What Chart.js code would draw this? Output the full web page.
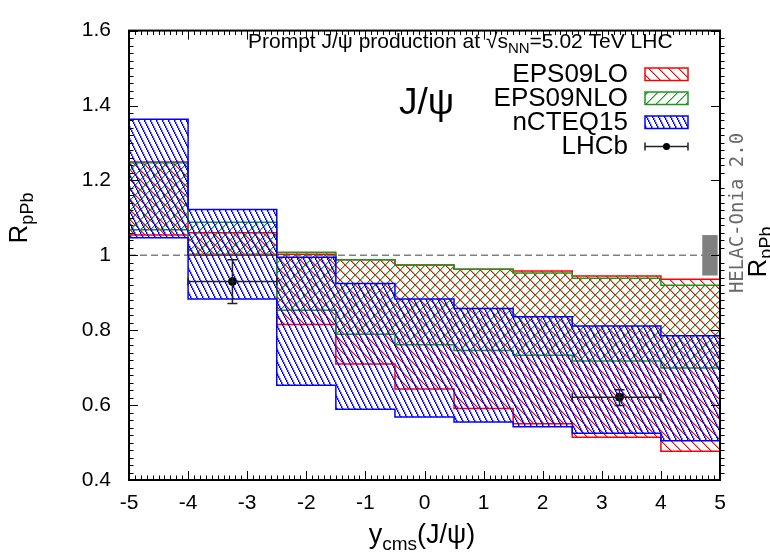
<!DOCTYPE html>
<html>
<head>
<meta charset="utf-8">
<script src="https://cdn.jsdelivr.net/npm/chart.js@4.4.0/dist/chart.umd.min.js"></script>
<style>
html, body { margin: 0; padding: 0; background: #fff; }
#wrap { width: 770px; height: 554px; }
</style>
</head>
<body>
<div id="wrap"><canvas id="rpbChart" width="770" height="554"></canvas></div>
<script>
// rapidity bins (edges) shared by all three nPDF bands
const binEdges = [-5, -4, -2.5, -1.5, -0.5, 0.5, 1.5, 2.5, 4, 5];

const eps09loHigh  = [1.249, 1.060, 1.003, 0.988, 0.974, 0.963, 0.958, 0.945, 0.936];
const eps09loLow   = [1.054, 1.000, 0.815, 0.710, 0.643, 0.591, 0.550, 0.514, 0.477];
const eps09nloHigh = [1.247, 1.088, 1.008, 0.988, 0.974, 0.963, 0.953, 0.939, 0.920];
const eps09nloLow  = [1.068, 1.003, 0.853, 0.789, 0.761, 0.746, 0.733, 0.718, 0.699];
const ncteqHigh    = [1.363, 1.122, 0.995, 0.925, 0.883, 0.858, 0.836, 0.811, 0.785];
const ncteqLow     = [1.047, 0.883, 0.653, 0.589, 0.568, 0.555, 0.542, 0.525, 0.505];

// LHCb data
const lhcbY      = [-3.25, 3.3];
const lhcbR      = [0.930, 0.621];
const lhcbErrLow = [0.871, 0.599];
const lhcbErrHigh= [0.988, 0.641];
const lhcbBinLow = [-4, 2.5];
const lhcbBinHigh= [-2.5, 4];

// global normalisation uncertainty box
const normCenter = 1.0;
const normUnc = 0.054;

const xTicks = [-5, -4, -3, -2, -1, 0, 1, 2, 3, 4, 5];
const yTicks = [0.4, 0.6, 0.8, 1.0, 1.2, 1.4, 1.6];

const RED = '#ff0000';
const GREEN = '#1e961e';
const BLUE = '#0000ff';
const FONT = '"Liberation Sans", Arial, sans-serif';

// crisp pixel hatching, like gnuplot's pattern fills
function makeHatch(color, w, h, up) {
    const c = document.createElement('canvas');
    c.width = w; c.height = h;
    const g = c.getContext('2d');
    g.fillStyle = color;
    for (let yy = 0; yy < h; yy++) {
        let xx = Math.floor(yy * w / h);
        if (up) xx = w - 1 - xx;
        g.globalAlpha = 1;
        g.fillRect(xx, yy, 1, 1);
        g.globalAlpha = 0.45;
        g.fillRect((xx + 1) % w, yy, 1, 1);
    }
    return g.createPattern(c, 'repeat');
}

const redHatch = makeHatch(RED, 10, 10, false);
const greenHatch = makeHatch(GREEN, 10, 10, true);
const blueHatch = makeHatch(BLUE, 6, 12, false);

function stepPoints(values) {
    const pts = [];
    values.forEach((v, i) => {
        pts.push({x: binEdges[i], y: v});
        pts.push({x: binEdges[i + 1], y: v});
    });
    return pts;
}

function band(label, high, low, color, pattern, order) {
    return [{
        label: label,
        data: stepPoints(high),
        borderColor: color,
        backgroundColor: pattern,
        borderWidth: 1.5,
        pointRadius: 0,
        fill: '+1',
        order: order
    }, {
        label: label + ' low',
        data: stepPoints(low),
        borderColor: color,
        borderWidth: 1.5,
        pointRadius: 0,
        fill: false,
        order: order
    }];
}

function drawSub(ctx, x, y, parts, align) {
    // parts: [text, size, dy]
    let total = 0;
    parts.forEach(p => { ctx.font = p[1] + 'px ' + FONT; total += ctx.measureText(p[0]).width; });
    let cx = align === 'center' ? x - total / 2 : x;
    ctx.textAlign = 'left';
    ctx.textBaseline = 'alphabetic';
    parts.forEach(p => {
        ctx.font = p[1] + 'px ' + FONT;
        ctx.fillText(p[0], cx, y + p[2]);
        cx += ctx.measureText(p[0]).width;
    });
}

const decorPlugin = {
    id: 'decor',
    beforeDatasetsDraw(chart) {
        const {ctx, chartArea: a, scales: {x, y}} = chart;
        ctx.save();
        ctx.strokeStyle = '#808080';
        ctx.lineWidth = 1.5;
        ctx.setLineDash([7, 4]);
        ctx.beginPath();
        ctx.moveTo(a.left, y.getPixelForValue(1));
        ctx.lineTo(a.right, y.getPixelForValue(1));
        ctx.stroke();
        ctx.restore();
    },
    afterDatasetsDraw(chart) {
        const {ctx, chartArea: a, scales: {x, y}} = chart;
        ctx.save();

        // LHCb error bars
        ctx.strokeStyle = '#222';
        ctx.lineWidth = 1.5;
        lhcbY.forEach((v, i) => {
            const px = x.getPixelForValue(v);
            const py = y.getPixelForValue(lhcbR[i]);
            const x0 = x.getPixelForValue(lhcbBinLow[i]);
            const x1 = x.getPixelForValue(lhcbBinHigh[i]);
            const y0 = y.getPixelForValue(lhcbErrLow[i]);
            const y1 = y.getPixelForValue(lhcbErrHigh[i]);
            ctx.beginPath();
            ctx.moveTo(x0, py); ctx.lineTo(x1, py);
            ctx.moveTo(x0, py - 4); ctx.lineTo(x0, py + 4);
            ctx.moveTo(x1, py - 4); ctx.lineTo(x1, py + 4);
            ctx.moveTo(px, y0); ctx.lineTo(px, y1);
            ctx.moveTo(px - 5, y0); ctx.lineTo(px + 5, y0);
            ctx.moveTo(px - 5, y1); ctx.lineTo(px + 5, y1);
            ctx.stroke();
        });

        // normalisation box
        ctx.fillStyle = '#808080';
        const bx0 = x.getPixelForValue(4.7), bx1 = x.getPixelForValue(4.96);
        const by0 = y.getPixelForValue(normCenter + normUnc), by1 = y.getPixelForValue(normCenter - normUnc);
        ctx.fillRect(bx0, by0, bx1 - bx0, by1 - by0);

        // ticks
        ctx.strokeStyle = '#000';
        ctx.lineWidth = 1;
        ctx.beginPath();
        for (let i = 0; i <= 100; i++) {
            const v = -5 + i * 0.1;
            const px = Math.round(x.getPixelForValue(v)) + 0.5;
            const len = i % 10 === 0 ? 9 : 4.5;
            ctx.moveTo(px, a.bottom); ctx.lineTo(px, a.bottom - len);
            ctx.moveTo(px, a.top); ctx.lineTo(px, a.top + len);
        }
        for (let i = 0; i <= 60; i++) {
            const v = 0.4 + i * 0.02;
            const py = Math.round(y.getPixelForValue(v)) + 0.5;
            const len = i % 10 === 0 ? 9 : 4.5;
            ctx.moveTo(a.left, py); ctx.lineTo(a.left + len, py);
            if (i % 10 === 0) { ctx.moveTo(a.right, py); ctx.lineTo(a.right - len, py); }
            else { ctx.moveTo(a.right, py); ctx.lineTo(a.right + len, py); }
        }
        ctx.stroke();

        // frame
        ctx.lineWidth = 2;
        ctx.strokeRect(a.left, a.top, a.right - a.left, a.bottom - a.top);

        // title line
        ctx.fillStyle = '#000';
        ctx.font = '21px ' + FONT;
        ctx.textAlign = 'left';
        ctx.textBaseline = 'alphabetic';
        let tx = 248;
        const tb = 48;
        const t1 = 'Prompt J/\u03c8 production at \u221a';
        ctx.fillText(t1, tx, tb);
        tx += ctx.measureText(t1).width;
        const sw = ctx.measureText('s').width;
        ctx.fillText('s', tx, tb);
        ctx.lineWidth = 1;
        ctx.beginPath();
        ctx.moveTo(tx - 1, tb - 17.5); ctx.lineTo(tx + sw + 1, tb - 17.5);
        ctx.stroke();
        tx += sw;
        ctx.font = '15px ' + FONT;
        ctx.fillText('NN', tx, tb + 5);
        tx += ctx.measureText('NN').width;
        ctx.font = '21px ' + FONT;
        ctx.fillText('=5.02 TeV LHC', tx, tb);

        // J/psi label
        ctx.font = '37px ' + FONT;
        ctx.fillText('J/\u03c8', 399, 114);

        // legend
        const legend = [
            ['EPS09LO', RED, redHatch],
            ['EPS09NLO', GREEN, greenHatch],
            ['nCTEQ15', BLUE, blueHatch],
            ['LHCb', '#222', null]
        ];
        ctx.font = '26px ' + FONT;
        legend.forEach((row, i) => {
            const base = 82 + i * 24;
            ctx.fillStyle = '#000';
            ctx.textAlign = 'right';
            ctx.fillText(row[0], 628, base);
            if (row[2]) {
                ctx.fillStyle = row[2];
                ctx.fillRect(645, base - 14, 43, 12.5);
                ctx.strokeStyle = row[1];
                ctx.lineWidth = 1.5;
                ctx.strokeRect(645, base - 14, 43, 12.5);
            } else {
                const ly = base - 7.5;
                ctx.strokeStyle = row[1];
                ctx.lineWidth = 1.5;
                ctx.beginPath();
                ctx.moveTo(645, ly); ctx.lineTo(688, ly);
                ctx.moveTo(645, ly - 4); ctx.lineTo(645, ly + 4);
                ctx.moveTo(688, ly - 4); ctx.lineTo(688, ly + 4);
                ctx.stroke();
                ctx.fillStyle = '#000';
                ctx.beginPath();
                ctx.arc(666.5, ly, 3.5, 0, Math.PI * 2);
                ctx.fill();
            }
        });

        // axis titles
        ctx.fillStyle = '#000';
        drawSub(ctx, 422, 543, [['y', 27, 0], ['cms', 19, 7], ['(J/\u03c8)', 27, 0]], 'center');

        ctx.save();
        ctx.translate(27, 218);
        ctx.rotate(-Math.PI / 2);
        drawSub(ctx, 0, 0, [['R', 26, 0], ['pPb', 18, 6]], 'center');
        ctx.restore();

        ctx.save();
        ctx.translate(766, 252);
        ctx.rotate(-Math.PI / 2);
        drawSub(ctx, 0, 0, [['R', 26, 0], ['pPb', 18, 6]], 'center');
        ctx.restore();

        ctx.save();
        ctx.translate(743, 213);
        ctx.rotate(-Math.PI / 2);
        ctx.fillStyle = '#6a6a6a';
        ctx.font = '19px "DejaVu Sans Mono", monospace';
        ctx.textAlign = 'center';
        ctx.fillText('HELAC-Onia 2.0', 0, 0);
        ctx.restore();

        ctx.restore();
    }
};

const datasets = [
    ...band('EPS09LO', eps09loHigh, eps09loLow, RED, redHatch, 3),
    ...band('EPS09NLO', eps09nloHigh, eps09nloLow, GREEN, greenHatch, 2),
    ...band('nCTEQ15', ncteqHigh, ncteqLow, BLUE, blueHatch, 1),
    {
        label: 'LHCb',
        type: 'scatter',
        data: lhcbY.map((v, i) => ({x: v, y: lhcbR[i]})),
        backgroundColor: '#000',
        borderColor: '#000',
        pointRadius: 4,
        order: 0
    }
];

const ctx = document.getElementById('rpbChart').getContext('2d');
const rpbChart = new Chart(ctx, {
    type: 'line',
    data: { datasets: datasets },
    options: {
        responsive: false,
        animation: false,
        devicePixelRatio: 1,
        layout: { padding: { top: 15, right: 50, left: 0, bottom: 0 } },
        plugins: {
            legend: { display: false },
            tooltip: { enabled: false }
        },
        scales: {
            x: {
                type: 'linear',
                min: -5,
                max: 5,
                afterFit: s => { s.height = 74; },
                afterBuildTicks: s => { s.ticks = xTicks.map(v => ({value: v})); },
                grid: { display: false, drawTicks: false },
                border: { display: false },
                ticks: {
                    color: '#000',
                    padding: 11,
                    maxRotation: 0,
                    font: { family: FONT, size: 21 }
                }
            },
            y: {
                type: 'linear',
                min: 0.4,
                max: 1.6,
                afterFit: s => { s.width = 129; },
                afterBuildTicks: s => { s.ticks = yTicks.map(v => ({value: v})); },
                grid: { display: false, drawTicks: false },
                border: { display: false },
                ticks: {
                    color: '#000',
                    padding: 18,
                    font: { family: FONT, size: 21 },
                    callback: v => Math.abs(v - 1) < 1e-6 ? '1' : v.toFixed(1)
                }
            }
        }
    },
    plugins: [decorPlugin]
});
</script>
</body>
</html>
